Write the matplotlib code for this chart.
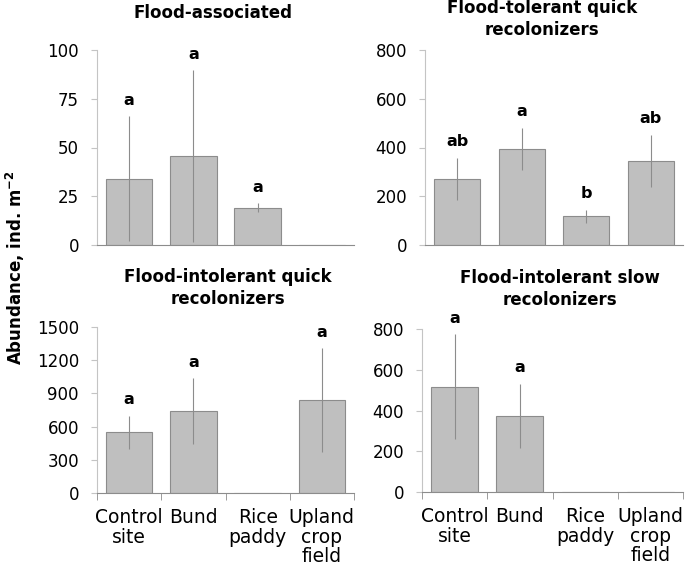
import numpy as np
import matplotlib
matplotlib.use("Agg")
import matplotlib.pyplot as plt

plt.rcParams['font.family'] = ['DejaVu Sans']

categories = ["Control\nsite", "Bund", "Rice\npaddy", "Upland\ncrop\nfield"]

# means, errors and significance letters per panel (nan = no bar)
flood_assoc = [34, 45.5, 19, np.nan]
flood_assoc_err = [32, 44, 2.3, np.nan]
flood_assoc_let = ["a", "a", "a", ""]

tol_quick = [272, 395, 117, 345]
tol_quick_err = [86, 86, 28, 108]
tol_quick_let = ["ab", "a", "b", "ab"]

intol_quick = [550, 740, np.nan, 838]
intol_quick_err = [148, 300, np.nan, 472]
intol_quick_let = ["a", "a", "", "a"]

intol_slow = [517, 375, np.nan, np.nan]
intol_slow_err = [257, 157, np.nan, np.nan]
intol_slow_let = ["a", "a", "", ""]

panels = [
    ("Flood-associated", flood_assoc, flood_assoc_err, flood_assoc_let, np.arange(0, 101, 25)),
    ("Flood-tolerant quick\nrecolonizers", tol_quick, tol_quick_err, tol_quick_let, np.arange(0, 801, 200)),
    ("Flood-intolerant quick\nrecolonizers", intol_quick, intol_quick_err, intol_quick_let, np.arange(0, 1501, 300)),
    ("Flood-intolerant slow\nrecolonizers", intol_slow, intol_slow_err, intol_slow_let, np.arange(0, 801, 200)),
]

W, H = 685, 569
# axes boxes in pixels: left, top, right, bottom
boxes = [(97, 50, 354, 245), (425, 50, 683, 245), (97, 327, 354, 493), (422, 329, 683, 492)]
title_pos = [(213, 13), (542, 19), (228, 288), (560, 289)]

fig = plt.figure(figsize=(W / 100, H / 100), dpi=100)
y_col = "#C4C4C4"
x_col = "#8C8C8C"

for i, (title, vals, errs, lets, ticks) in enumerate(panels):
    l, t, r, b = boxes[i]
    ax = fig.add_axes([l / W, 1 - b / H, (r - l) / W, (b - t) / H])
    x = np.arange(len(categories))
    v = np.array(vals, dtype=float)
    e = np.array(errs, dtype=float)
    ax.bar(x, np.nan_to_num(v), width=0.72, color="#BFBFBF", edgecolor="#8C8C8C", linewidth=0.8, zorder=2)
    ax.errorbar(x, v, yerr=e, fmt="none", ecolor="#8C8C8C", elinewidth=0.8, capsize=0, zorder=3)
    for xi, vi, ei, lt in zip(x, v, e, lets):
        if lt:
            ax.annotate(lt, (xi, vi + ei), xytext=(0, 6), textcoords="offset points",
                        ha="center", va="bottom", fontsize=11.5, fontweight="bold")
    ax.set_xlim(-0.5, 3.5)
    ax.set_ylim(ticks[0], ticks[-1])
    ax.set_yticks(ticks)
    ax.tick_params(axis="y", labelsize=12, length=4, color=y_col, direction="out", pad=9)
    for s in ["top", "right"]:
        ax.spines[s].set_visible(False)
    ax.spines["left"].set_color(y_col)
    ax.spines["bottom"].set_color(x_col)
    ax.spines["left"].set_linewidth(0.8)
    ax.spines["bottom"].set_linewidth(0.8)
    ax.set_xticks(x)
    if i >= 2:
        ax.set_xticklabels(categories, fontsize=13.5, va="top", linespacing=1.02)
        ax.set_xticks(np.arange(-0.5, 4.0, 1.0), minor=True)
        ax.tick_params(axis="x", which="major", length=0, pad=11)
        ax.tick_params(axis="x", which="minor", length=5, color=x_col)
    else:
        ax.set_xticklabels([])
        ax.tick_params(axis="x", length=0)
    tx, ty = title_pos[i]
    fig.text(tx / W, 1 - ty / H, title, ha="center", va="center", fontsize=12,
             fontweight="bold", linespacing=1.25)

fig.text(15 / W, 1 - 268 / H, "Abundance, ind. m$^{\\mathbf{-2}}$", rotation=90,
         ha="center", va="center", fontsize=12, fontweight="bold")

fig.savefig("out.png", dpi=100)
